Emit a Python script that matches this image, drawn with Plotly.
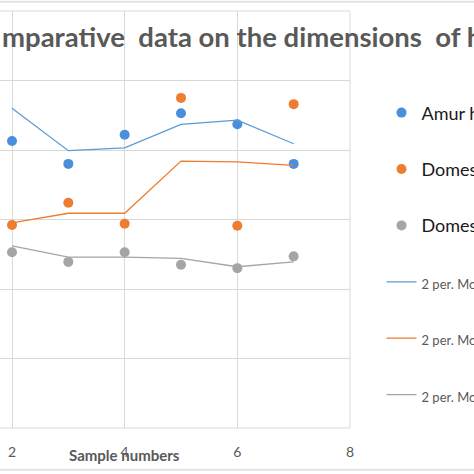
import plotly.graph_objects as go

# sample numbers visible in the cropped chart
samples = [2, 3, 4, 5, 6, 7]

# measured points (axis labels are cropped, values are in relative units)
amur = [41.3, 38.0, 42.2, 45.3, 43.7, 38.0]
dome_1 = [29.2, 32.4, 29.4, 47.5, 29.1, 46.6]
dome_2 = [25.3, 23.9, 25.3, 23.5, 23.0, 24.7]

# 2-period moving average trendlines as drawn in the chart
amur_avg = [46.0, 39.9, 40.3, 43.7, 44.3, 40.9]
dome_1_avg = [29.5, 30.9, 30.9, 38.4, 38.3, 37.8]
dome_2_avg = [26.2, 24.6, 24.6, 24.4, 23.2, 23.9]

names = ["Amur hedgehog", "Domestic hedgehog I", "Domestic hedgehog II"]
colors = ["#4a8fdb", "#ed7d31", "#a5a5a5"]
line_colors = ["#5b9bd5", "#ed7d31", "#a5a5a5"]

x_ticks = [2, 4, 6, 8]

FONT = "Lato"
GRID = "#d9d9d9"

fig = go.Figure()

for i, (vals, name) in enumerate(zip([amur, dome_1, dome_2], names)):
    fig.add_trace(go.Scatter(
        x=samples, y=vals, mode="markers", name=name,
        marker=dict(color=colors[i], size=10),
        legendgroup=f"p{i}",
    ))

for i, (vals, name) in enumerate(zip([amur_avg, dome_1_avg, dome_2_avg], names)):
    fig.add_trace(go.Scatter(
        x=samples, y=vals, mode="lines",
        name=f"<span style='font-size:13px;color:#595959'>2 per. Mov. Avg. ({name})</span>",
        line=dict(color=line_colors[i], width=1.3),
        legendgroup=f"l{i}",
    ))

fig.update_layout(
    width=474, height=474,
    margin=dict(l=0, r=124, t=11, b=46, autoexpand=False),
    paper_bgcolor="white", plot_bgcolor="white",
    font=dict(family=FONT, color="#595959"),
    showlegend=True,
    legend=dict(
        x=1.09, xref="paper", xanchor="left", y=0.80, yanchor="top",
        font=dict(size=18, color="#1a1a1a", family=FONT),
        tracegroupgap=30, itemwidth=30,
        bgcolor="rgba(0,0,0,0)",
    ),
    xaxis=dict(
        range=[1.787, 8], tickvals=x_ticks, showgrid=True,
        gridcolor=GRID, gridwidth=1, zeroline=False,
        showline=False, tickfont=dict(size=14, color="#595959"),
        ticklabelstandoff=14,
    ),
    yaxis=dict(
        range=[0, 60], dtick=10, showgrid=True, gridcolor=GRID,
        gridwidth=1, zeroline=False, showticklabels=False,
        showline=False,
    ),
    annotations=[
        dict(text="<b>mparative  data on the dimensions  of h</b>",
             xref="paper", yref="paper", x=0, y=0.938,
             xanchor="left", yanchor="middle", showarrow=False,
             font=dict(size=27.5, color="#595959", family=FONT)),
        dict(text="<b>Sample numbers</b>", xref="x", yref="paper", x=4.0,
             y=-0.065, xanchor="center", yanchor="middle",
             showarrow=False,
             font=dict(size=15, color="#595959", family=FONT)),
    ],
    shapes=[
        # plot area frame
        dict(type="line", xref="paper", yref="paper", x0=0, x1=1,
             y0=0, y1=0, line=dict(color=GRID, width=1)),
        dict(type="line", xref="paper", yref="paper", x0=0, x1=1,
             y0=1, y1=1, line=dict(color=GRID, width=1)),
        dict(type="line", xref="paper", yref="paper", x0=1, x1=1,
             y0=0, y1=1, line=dict(color=GRID, width=1)),
        # outer chart border (cropped)
        dict(type="line", xref="paper", yref="paper", x0=0, x1=1.36,
             y0=1.022, y1=1.022, line=dict(color="#e3e3e3", width=2)),
        dict(type="line", xref="paper", yref="paper", x0=0, x1=1.36,
             y0=-0.1, y1=-0.1, line=dict(color="#e3e3e3", width=2)),
    ],
)

fig.write_html("out.html", config={"displayModeBar": False},
               post_script="document.body.style.margin='0';")
